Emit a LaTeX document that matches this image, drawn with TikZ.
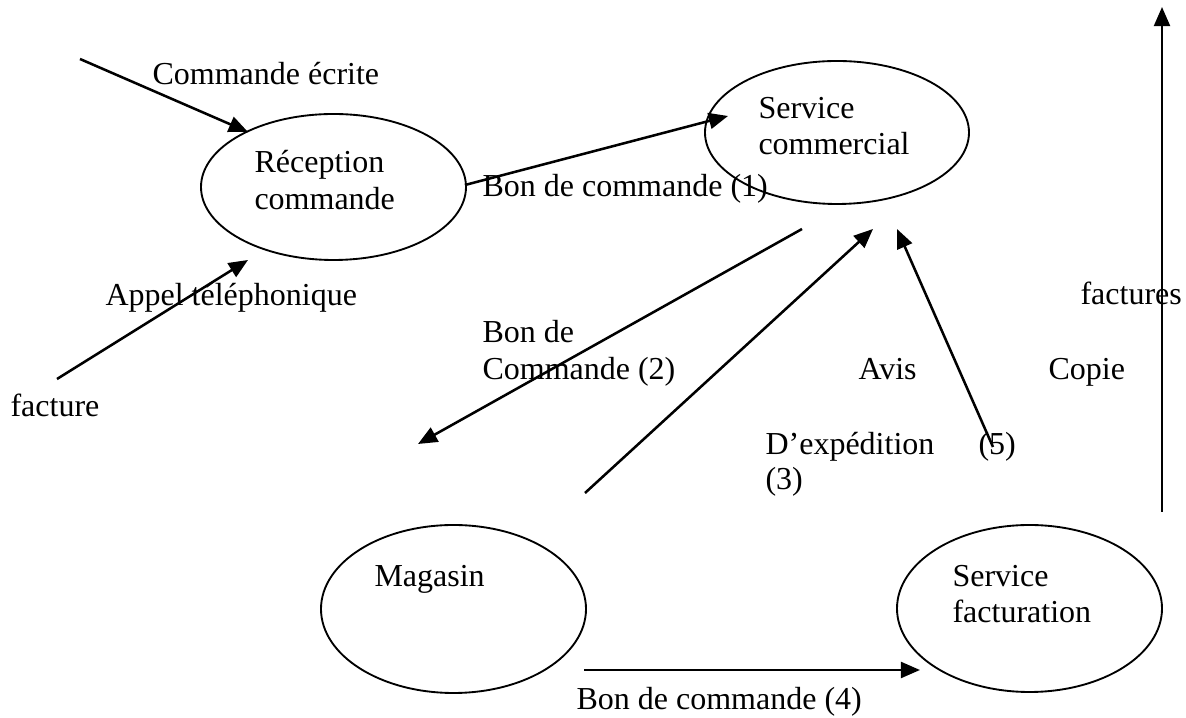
\documentclass[tikz,border=0pt]{standalone}
\usepackage{fontspec}
\setmainfont{Liberation Serif}
\usetikzlibrary{arrows.meta,shapes.geometric}

\tikzset{
  process/.style={draw, ellipse, line width=0.7pt, inner sep=0pt},
  lbl/.style={anchor=base west, inner sep=0pt, font=\fontsize{12}{13.9}\selectfont},
  flow/.style={line width=0.95pt, -{Triangle[length=7.2pt, width=6pt]}},
}

\begin{document}
\begin{tikzpicture}[x=0.375pt, y=-0.375pt]
\useasboundingbox (0,0) rectangle (1186,718);

% processes
\node[process, minimum width=265*0.375pt, minimum height=146*0.375pt] (rec) at (333.5,187) {};
\node[process, minimum width=264*0.375pt, minimum height=143*0.375pt] (com) at (837,132.5) {};
\node[process, minimum width=265*0.375pt, minimum height=168*0.375pt] (mag) at (453.5,609) {};
\node[process, minimum width=265*0.375pt, minimum height=167*0.375pt] (fac) at (1029.5,608.5) {};

% texts inside the processes
\node[lbl] (recA) at (254,173) {Réception};
\node[lbl] (recB) at (254,210) {commande};
\node[lbl] (comA) at (758,119) {Service};
\node[lbl] (comB) at (758,155) {commercial};
\node[lbl] (magA) at (374,587) {Magasin};
\node[lbl] (facA) at (952,587) {Service};
\node[lbl] (facB) at (952,623) {facturation};

% flow labels
\node[lbl] (tEcrite) at (152,85) {Commande écrite};
\node[lbl] (tTel) at (105,306) {Appel téléphonique};
\node[lbl] (tFacture) at (10,417) {facture};
\node[lbl] (tBc1) at (482,197) {Bon de commande (1)};
\node[lbl] (tBc2a) at (482,343) {Bon de};
\node[lbl] (tBc2b) at (482,380) {Commande (2)};
\node[lbl] (tAvis) at (858,380) {Avis};
\node[lbl] (tExp) at (765,455) {D’expédition};
\node[lbl] (tTrois) at (765,490) {(3)};
\node[lbl] (tCinq) at (978,455) {(5)};
\node[lbl] (tCopie) at (1048,380) {Copie};
\node[lbl] (tFactures) at (1080,305) {factures};
\node[lbl] (tBc4) at (576,710) {Bon de commande (4)};

% connector ends
\coordinate (e1s) at (80,59);    \coordinate (e1e) at (248,132);
\coordinate (e2s) at (465,185);  \coordinate (e2e) at (728,116);
\coordinate (e3s) at (57,379);   \coordinate (e3e) at (248,260);
\coordinate (e4s) at (802,229);  \coordinate (e4e) at (418,444);
\coordinate (e5s) at (585,493);  \coordinate (e5e) at (873,229);
\coordinate (e6s) at (993,447);  \coordinate (e6e) at (897,229);
\coordinate (e7s) at (1162,512); \coordinate (e7e) at (1162,7);
\coordinate (e8s) at (584,670);  \coordinate (e8e) at (920,670);

% flows
\draw[flow] (e1s) -- (e1e);
\draw[flow] (e2s) -- (e2e);
\draw[flow] (e3s) -- (e3e);
\draw[flow] (e4s) -- (e4e);
\draw[flow] (e5s) -- (e5e);
\draw[flow] (e6s) -- (e6e);
\draw[flow] (e7s) -- (e7e);
\draw[flow] (e8s) -- (e8e);
\end{tikzpicture}
\end{document}
